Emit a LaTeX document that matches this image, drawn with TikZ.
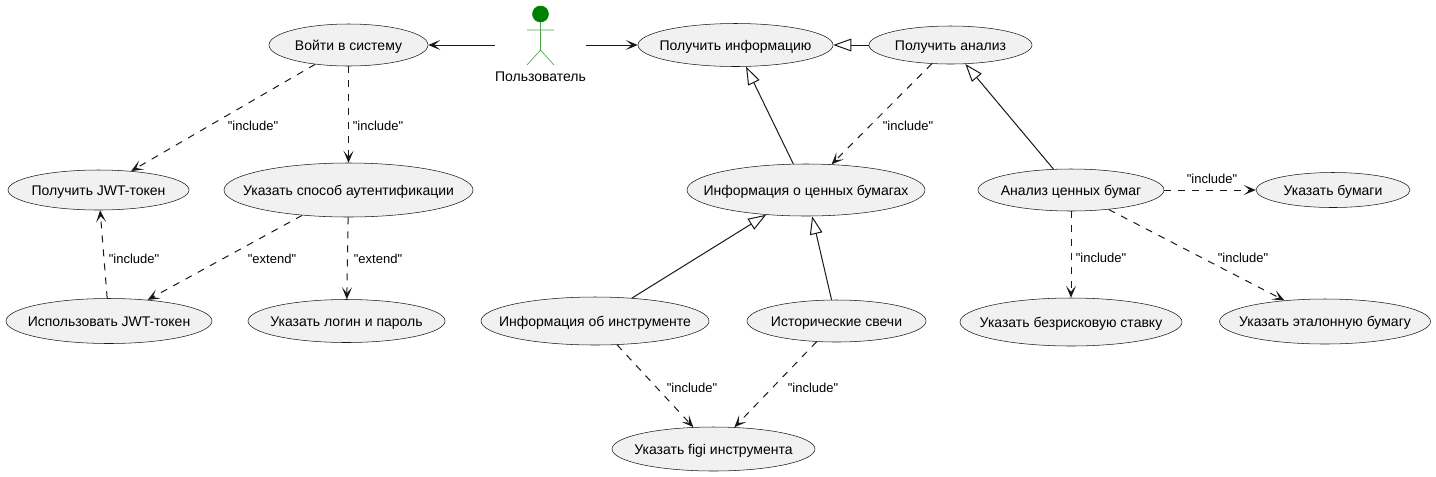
\documentclass[tikz,border=0pt]{standalone}
\usepackage{fontspec}
\setmainfont{Liberation Sans}[Ligatures=TeXOff]
\usetikzlibrary{arrows.meta,shapes.geometric}
\definecolor{ucfill}{HTML}{F1F1F1}
\definecolor{ucline}{HTML}{181818}
\definecolor{actorgreen}{HTML}{008000}
\tikzset{
  usecase/.style={draw=ucline,fill=ucfill,ellipse,line width=0.4pt,inner xsep=-60pt,inner ysep=-20pt,text height=9pt,text depth=1.5pt,font=\fontsize{10.5}{12}\selectfont},
  reltext/.style={inner sep=0pt,text height=8pt,text depth=1.5pt,font=\fontsize{9.75}{12}\selectfont},
  assoc/.style={draw=ucline,line width=0.75pt,-{Stealth[inset=4.5pt,length=9pt,width=7.5pt]}},
  dep/.style={assoc,dash pattern=on 5.25pt off 5.25pt},
  gen/.style={draw=ucline,line width=0.75pt,-{Triangle[open,fill=white,length=13.5pt,width=9.5pt]}}
}

\begin{document}
\begin{tikzpicture}[x=0.75pt,y=-0.75pt]
  \useasboundingbox (0,0) rectangle (1436,476) ;
  % actor
  \node[minimum width=68.25pt,minimum height=60pt,inner sep=0pt] (user) at (540.5,45) {} ;
  \draw[actorgreen,line width=0.4pt,fill=actorgreen] (540.5,14) circle (8) ;
  \draw[actorgreen!70!white,line width=0.5pt] (540.5,22) -- (540.5,50) (527,30) -- (554,30)
     (527,65) -- (540.5,50) -- (554,65) ;
  \node[inner sep=0pt,text height=9pt,text depth=1.5pt,font=\fontsize{10.5}{12}\selectfont] (username) at (540.5,76) {Пользователь} ;
  % left group
  \node[usecase,minimum width=119.25pt,minimum height=31.5pt] (login) at (348.5,45) {Войти в систему} ;
  \node[usecase,minimum width=135.75pt,minimum height=30pt] (getjwt) at (98.5,190) {Получить JWT-токен} ;
  \node[usecase,minimum width=186.75pt,minimum height=40.5pt] (authway) at (348.5,190) {Указать способ аутентификации} ;
  \node[usecase,minimum width=154.5pt,minimum height=33.75pt] (usejwt) at (109,321) {Использовать JWT-токен} ;
  \node[usecase,minimum width=147.75pt,minimum height=32.25pt] (loginpass) at (346.5,321) {Указать логин и пароль} ;
  % middle group
  \node[usecase,minimum width=146.25pt,minimum height=32.25pt] (getinfo) at (735.5,45) {Получить информацию} ;
  \node[usecase,minimum width=122.25pt,minimum height=28.5pt] (getanal) at (950.5,45) {Получить анализ} ;
  \node[usecase,minimum width=178.5pt,minimum height=39pt] (secinfo) at (806,190) {Информация о ценных бумагах} ;
  \node[usecase,minimum width=171pt,minimum height=36pt] (instinfo) at (595,321) {Информация об инструменте} ;
  \node[usecase,minimum width=134.25pt,minimum height=31.5pt] (candles) at (836.5,321) {Исторические свечи} ;
  \node[usecase,minimum width=152.25pt,minimum height=33pt] (figi) at (713.5,449) {Указать figi инструмента} ;
  % right group
  \node[usecase,minimum width=139.5pt,minimum height=31.5pt] (secanal) at (1071,190) {Анализ ценных бумаг} ;
  \node[usecase,minimum width=115.5pt,minimum height=26.25pt] (setsec) at (1333,190) {Указать бумаги} ;
  \node[usecase,minimum width=166.5pt,minimum height=36pt] (riskfree) at (1071,322) {Указать безрисковую ставку} ;
  \node[usecase,minimum width=158.25pt,minimum height=33.75pt] (bench) at (1325,321.5) {Указать эталонную бумагу} ;
  % connectors
  \draw[assoc] (user) -- (login) ;
  \draw[assoc] (user) -- (getinfo) ;
  \draw[gen] (getanal) -- (getinfo) ;
  \draw[gen] (secinfo) -- (getinfo) ;
  \draw[gen] (secanal) -- (getanal.-52) ;
  \draw[gen] (instinfo) -- (secinfo) ;
  \draw[gen] (candles) -- (secinfo) ;
  \draw[dep] (login) -- (getjwt) ;
  \draw[dep] (login) -- (authway) ;
  \draw[dep] (usejwt) -- (getjwt) ;
  \draw[dep] (authway) -- (usejwt) ;
  \draw[dep] (authway) -- (loginpass) ;
  \draw[dep] (getanal) -- (secinfo) ;
  \draw[dep] (instinfo) -- (figi) ;
  \draw[dep] (candles) -- (figi) ;
  \draw[dep] (secanal) -- (setsec) ;
  \draw[dep] (secanal) -- (riskfree) ;
  \draw[dep] (secanal) -- (bench) ;
  % labels
  \node[reltext] (la) at (253,126) {"include"} ;
  \node[reltext] (lb) at (378,126) {"include"} ;
  \node[reltext] (lc) at (134,259) {"include"} ;
  \node[reltext] (ld) at (272,259) {"extend"} ;
  \node[reltext] (le) at (378,259) {"extend"} ;
  \node[reltext] (lf) at (908,126) {"include"} ;
  \node[reltext] (lg) at (1212,179) {"include"} ;
  \node[reltext] (lh) at (1101,258) {"include"} ;
  \node[reltext] (li) at (1243,258) {"include"} ;
  \node[reltext] (lj) at (692,388) {"include"} ;
  \node[reltext] (lk) at (813,388) {"include"} ;
\end{tikzpicture}
\end{document}
